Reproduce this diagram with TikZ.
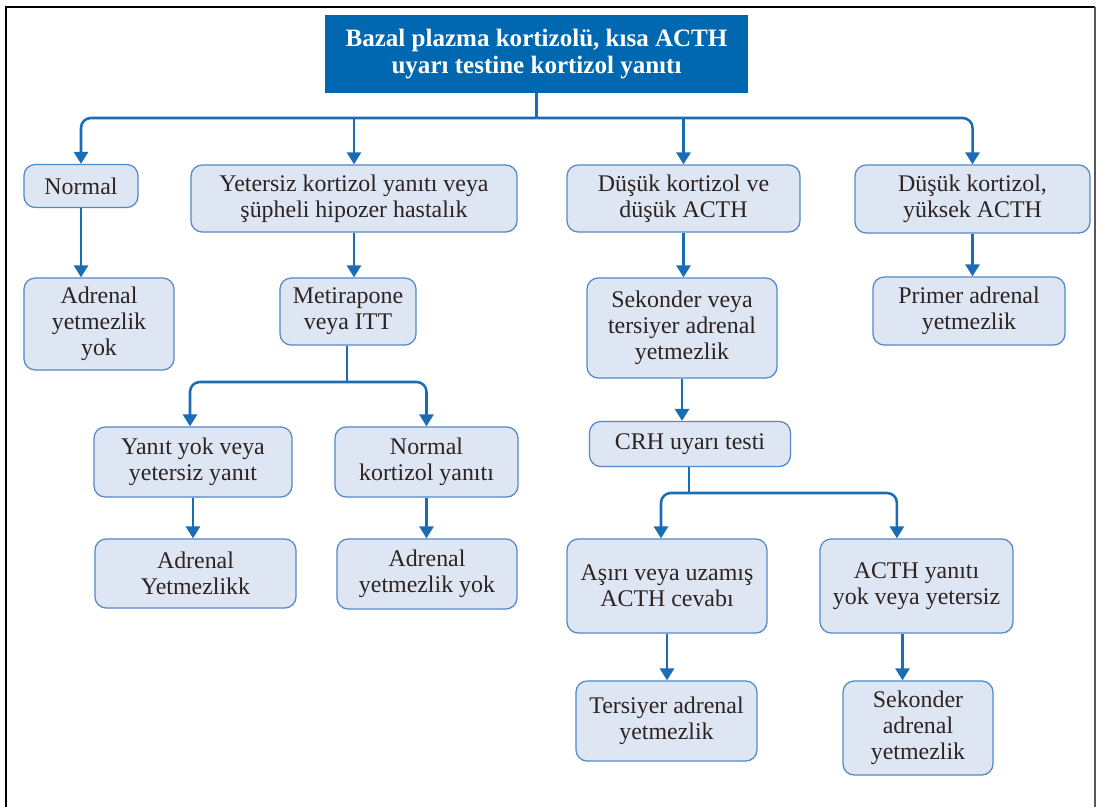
\documentclass[tikz,border=0pt]{standalone}
\usepackage{fontspec}
\setmainfont{Liberation Serif}
\usetikzlibrary{arrows.meta}
\definecolor{headblue}{RGB}{0,103,177}
\definecolor{boxfill}{RGB}{221,230,242}
\definecolor{boxdraw}{RGB}{84,137,199}
\definecolor{arrblue}{RGB}{26,109,181}
\definecolor{txt}{RGB}{45,35,35}
\begin{document}
\begin{tikzpicture}[
      x=0.025cm, y=-0.025cm,
      head/.style={fill=headblue, draw=none, inner sep=0, align=center, text=white,
        font=\fontsize{17.8}{19.5}\selectfont\bfseries},
      box/.style={draw=boxdraw, fill=boxfill, line width=0.9pt, rounded corners=8pt,
        inner sep=0, align=center, text=txt, font=\fontsize{17}{18.6}\selectfont},
      line/.style={draw=arrblue, line width=1.8pt},
      arr/.style={line, -{Triangle[length=8.5pt, width=10pt]}},
      fork/.style={arr, rounded corners=7pt}
    ]
    \useasboundingbox (0,0) rectangle (1096,807);
    \draw[line width=1.6pt] (6,807) -- (6,7) -- (1095,7);
    \draw[line width=1pt, black!65] (1095,7) -- (1095,807);

    \node[head, minimum width=10.575cm, minimum height=1.95cm] (bazal) at (536.5,54)
      {Bazal plazma kortizolü, kısa ACTH\\uyarı testine kortizol yanıtı};

    \node[box, minimum width=2.85cm, minimum height=1.075cm] (normal) at (81,186) {Normal};
    \node[box, minimum width=8.15cm, minimum height=1.675cm] (yetersiz) at (354,198.5)
      {Yetersiz kortizol yanıtı veya\\şüpheli hipozer hastalık};
    \node[box, minimum width=5.825cm, minimum height=1.675cm] (dusukdusuk) at (683.5,198.5)
      {Düşük kortizol ve\\düşük ACTH};
    \node[box, minimum width=5.875cm, minimum height=1.7cm] (dusukyuksek) at (972.5,199)
      {Düşük kortizol,\\yüksek ACTH};

    \node[box, minimum width=3.75cm, minimum height=2.3cm] (yokA) at (99,324)
      {Adrenal\\yetmezlik\\yok};
    \node[box, minimum width=3.4cm, minimum height=1.675cm] (metirapone) at (348,311.5)
      {Metirapone\\veya ITT};
    \node[box, minimum width=4.75cm, minimum height=2.5cm] (sekter) at (682,328)
      {Sekonder veya\\tersiyer adrenal\\yetmezlik};
    \node[box, minimum width=4.8cm, minimum height=1.7cm] (primer) at (969,311)
      {Primer adrenal\\yetmezlik};

    \node[box, minimum width=4.95cm, minimum height=1.75cm] (yanityok) at (193,462)
      {Yanıt yok veya\\yetersiz yanıt};
    \node[box, minimum width=4.575cm, minimum height=1.75cm] (normalkort) at (426.5,462)
      {Normal\\kortizol yanıtı};
    \node[box, minimum width=5.025cm, minimum height=1.725cm] (yetmezA) at (195.5,573.5)
      {Adrenal\\Yetmezlikk};
    \node[box, minimum width=4.5cm, minimum height=1.75cm] (yokB) at (427,574)
      {Adrenal\\yetmezlik yok};

    \node[box, minimum width=5.025cm, minimum height=1.125cm] (crh) at (690,444)
      {CRH uyarı testi};
    \node[box, minimum width=5cm, minimum height=2.35cm] (asiri) at (667,586)
      {Aşırı veya uzamış\\ACTH cevabı};
    \node[box, minimum width=4.825cm, minimum height=2.35cm] (acthyok) at (916.5,586)
      {ACTH yanıtı\\yok veya yetersiz};
    \node[box, minimum width=4.525cm, minimum height=2cm] (tersiyer) at (666.5,721)
      {Tersiyer adrenal\\yetmezlik};
    \node[box, minimum width=3.75cm, minimum height=2.35cm] (sekonder) at (918,728)
      {Sekonder\\adrenal\\yetmezlik};

    \coordinate (j1) at (bazal.south |- 0,118);
    \coordinate (j2) at (347,382);
    \coordinate (j3) at (689,493);

    \draw[line] (bazal.south) -- (j1);
    \draw[fork] (j1) -| (normal.north);
    \draw[fork] (j1) -| (dusukyuksek.north);
    \draw[arr] (yetersiz.north |- j1) -- (yetersiz.north);
    \draw[arr] (dusukdusuk.north |- j1) -- (dusukdusuk.north);

    \draw[arr] (normal.south) -- (normal.south |- yokA.north);
    \draw[arr] (yetersiz.south) -- (yetersiz.south |- metirapone.north);
    \draw[arr] (dusukdusuk.south) -- (dusukdusuk.south |- sekter.north);
    \draw[arr] (dusukyuksek.south) -- (dusukyuksek.south |- primer.north);

    \draw[line] (metirapone.south -| j2) -- (j2);
    \draw[fork] (j2) -| ([xshift=-0.075cm]yanityok.north);
    \draw[fork] (j2) -| (normalkort.north);
    \draw[arr] (yanityok.south) -- (yanityok.south |- yetmezA.north);
    \draw[arr] (normalkort.south) -- (normalkort.south |- yokB.north);

    \draw[arr] (sekter.south) -- (sekter.south |- crh.north);
    \draw[line] (crh.south -| j3) -- (j3);
    \draw[fork] (j3) -| ([xshift=-0.15cm]asiri.north);
    \draw[fork] (j3) -| ([xshift=-0.49cm]acthyok.north);
    \draw[arr] (asiri.south) -- (asiri.south |- tersiyer.north);
    \draw[arr] ([xshift=-0.35cm]acthyok.south) -- ([xshift=-0.35cm]acthyok.south |- sekonder.north);
\end{tikzpicture}
\end{document}
